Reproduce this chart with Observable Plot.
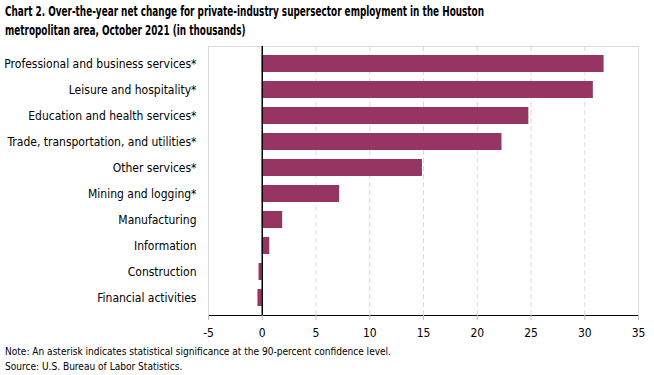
<!DOCTYPE html>
<html><head><meta charset="utf-8">
<script src="https://cdn.jsdelivr.net/npm/d3@7"></script>
<script src="https://cdn.jsdelivr.net/npm/@observablehq/plot@0.6"></script>
<style>
html,body{margin:0;padding:0;background:#fff;}
body{width:654px;height:375px;position:relative;overflow:hidden;font-family:"DejaVu Sans Condensed","DejaVu Sans",sans-serif;color:#000;}
#title{position:absolute;left:5px;top:2px;font-weight:bold;font-size:14px;line-height:19px;white-space:nowrap;transform-origin:0 0;}
#title span{display:block;}
#chart{position:absolute;left:0;top:42px;}
#notes{position:absolute;left:5px;top:344px;font-size:11px;line-height:15px;white-space:nowrap;transform-origin:0 0;}
#notes span{display:block;}
</style>
</head><body>
<div id="title"><span id="t1">Chart 2. Over-the-year net change for private-industry supersector employment in the Houston</span><span>metropolitan area, October 2021 (in thousands)</span></div>
<div id="chart"></div>
<div id="notes"><span id="n1">Note: An asterisk indicates statistical significance at the 90-percent confidence level.</span><span>Source: U.S. Bureau of Labor Statistics.</span></div>
<script>
const categories = [
  "Professional and business services*",
  "Leisure and hospitality*",
  "Education and health services*",
  "Trade, transportation, and utilities*",
  "Other services*",
  "Mining and logging*",
  "Manufacturing",
  "Information",
  "Construction",
  "Financial activities"
];
const values = [31.8, 30.8, 24.8, 22.3, 14.9, 7.2, 1.9, 0.7, -0.3, -0.4];
const xTicks = [-5, 0, 5, 10, 15, 20, 25, 30, 35];

const data = categories.map((c, i) => ({category: c, value: values[i]}));

const chart = Plot.plot({
  width: 654,
  height: 298,
  marginTop: 4,
  marginLeft: 208,
  marginRight: 16,
  marginBottom: 25,
  style: {fontFamily: "'DejaVu Sans Condensed','DejaVu Sans',sans-serif", fontSize: "12px", background: "#fff"},
  x: {domain: [-5, 35], label: null},
  y: {domain: categories, padding: 0.33, label: null},
  marks: [
    Plot.gridX(xTicks.filter(d => d !== 0 && d !== -5 && d !== 35), {stroke: "#d9d9d9", strokeOpacity: 1, strokeDasharray: "5,3"}),
    Plot.frame({stroke: "#d9d9d9"}),
    Plot.barX(data, {x: "value", y: "category", fill: "#963462"}),
    Plot.ruleX([0], {stroke: "#000", strokeWidth: 1.5}),
    Plot.frame({anchor: "bottom", stroke: "#000"}),
    Plot.axisX({ticks: xTicks, tickFormat: d => String(d), tickSize: 5, tickPadding: 8, stroke: "#bfbfbf", fill: "#000", fontSize: 12, label: null}),
    Plot.axisY({tickSize: 0, tickPadding: 12, fontSize: 12, fill: "#000", label: null})
  ]
});
document.getElementById("chart").appendChild(chart);

function fitWidth(boxId, lineId, target) {
  const box = document.getElementById(boxId);
  const line = document.getElementById(lineId);
  const w = line.getBoundingClientRect().width;
  if (w > 0) box.style.transform = `scaleX(${target / w})`;
}
fitWidth("title", "t1", 479);
fitWidth("notes", "n1", 386);
</script>
</body></html>
